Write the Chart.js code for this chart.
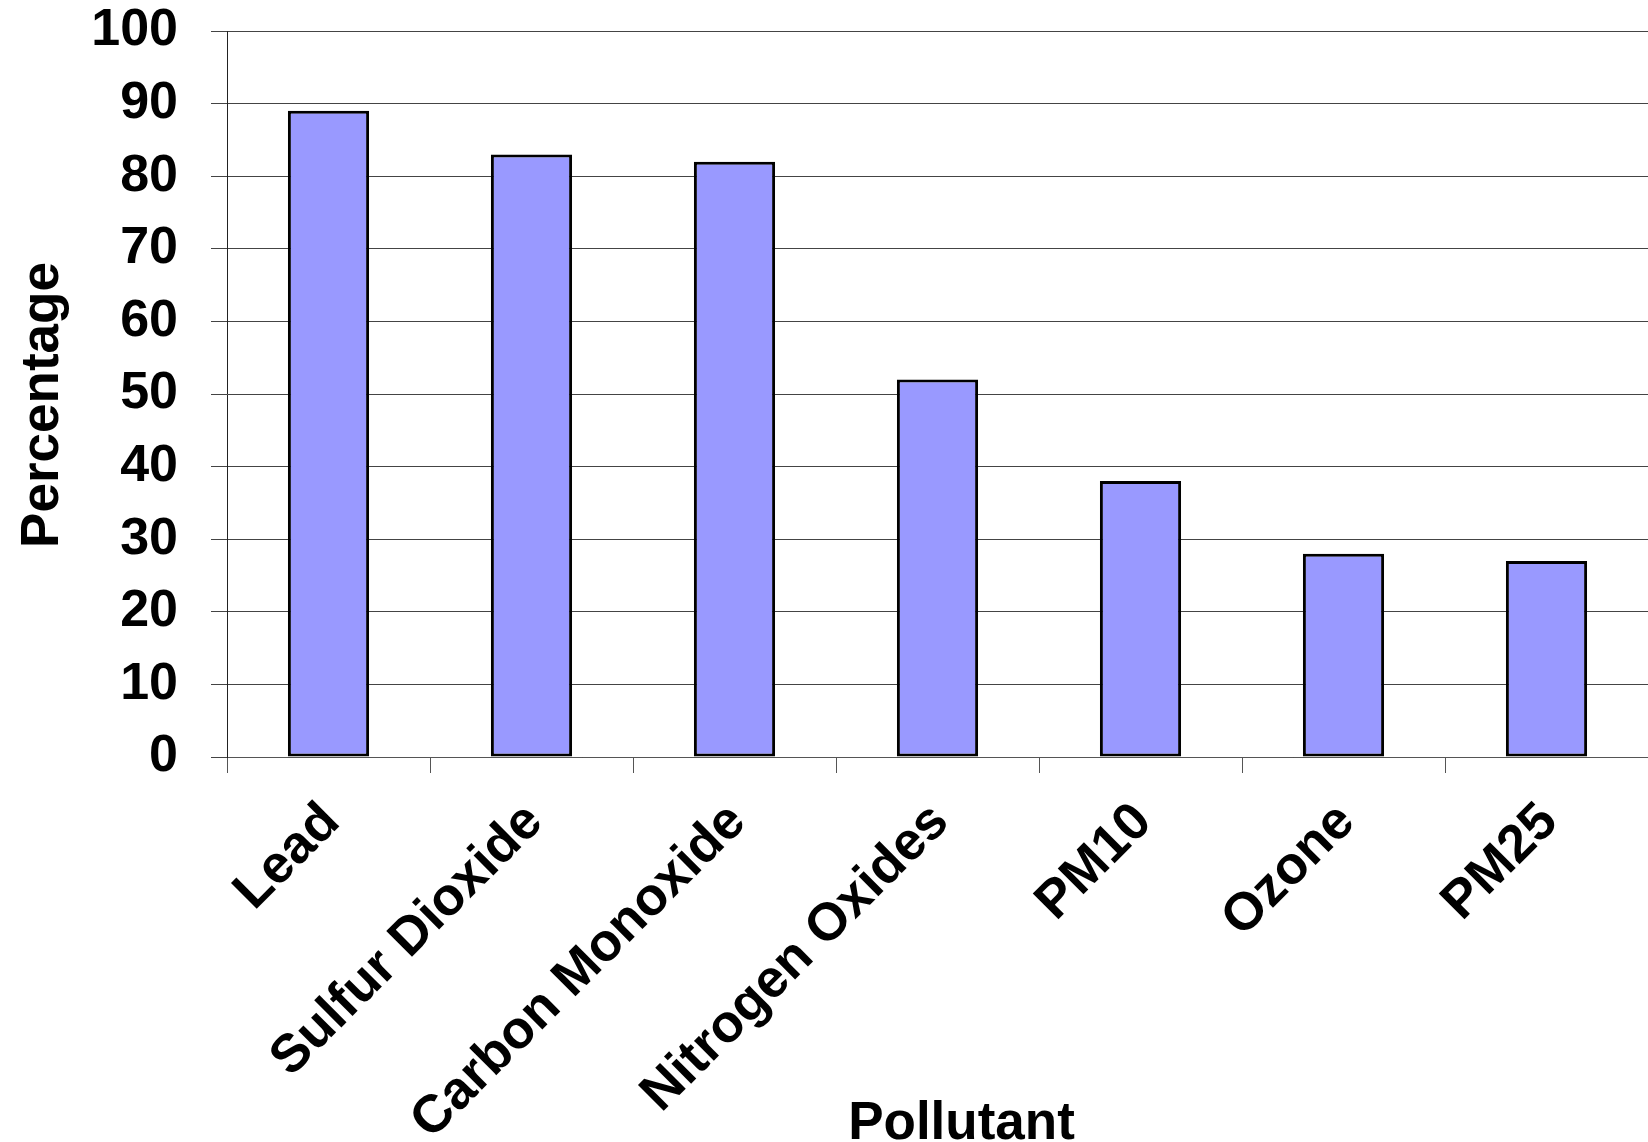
<!DOCTYPE html>
<html>
<head>
<meta charset="utf-8">
<script src="https://cdn.jsdelivr.net/npm/chart.js@4/dist/chart.umd.min.js"></script>
<style>
  html, body { margin: 0; padding: 0; background: #ffffff; }
  #wrap { width: 1648px; height: 1142px; position: relative; }
</style>
</head>
<body>
<div id="wrap"><canvas id="chart" width="1648" height="1142"></canvas></div>
<script>
// Share of monitoring sites meeting the standard, by pollutant
const pollutants = ['Lead', 'Sulfur Dioxide', 'Carbon Monoxide', 'Nitrogen Oxides', 'PM10', 'Ozone', 'PM25'];
const percentages = [89, 83, 82, 52, 38, 28, 27];
const yTicks = [0, 10, 20, 30, 40, 50, 60, 70, 80, 90, 100];
const xTitle = 'Pollutant';
const yTitle = 'Percentage';

const FONT = '"Liberation Sans", Arial, Helvetica, sans-serif';

// Axis titles, placed relative to the plot area
const axisTitles = {
  id: 'axisTitles',
  afterDraw(chart) {
    const { ctx, chartArea } = chart;
    ctx.save();
    ctx.fillStyle = '#000000';
    ctx.font = 'bold 53px ' + FONT;
    ctx.textAlign = 'center';
    ctx.textBaseline = 'alphabetic';
    // horizontal title under the rotated category labels
    ctx.fillText(xTitle, (chartArea.left + chartArea.right) / 2 + 24, chart.height - 3);
    // vertical title left of the value ticks
    ctx.translate(58, (chartArea.top + chartArea.bottom) / 2 + 11);
    ctx.rotate(-Math.PI / 2);
    ctx.fillText(yTitle, 0, 0);
    ctx.restore();
  }
};

new Chart(document.getElementById('chart'), {
  type: 'bar',
  data: {
    labels: pollutants,
    datasets: [{
      data: percentages,
      backgroundColor: '#9999ff',
      borderColor: '#000000',
      borderWidth: 3,
      borderSkipped: false,
      categoryPercentage: 1.0,
      barPercentage: 0.4
    }]
  },
  plugins: [axisTitles],
  options: {
    responsive: false,
    animation: false,
    layout: { padding: { top: 31, right: 0, bottom: 0, left: 0 } },
    plugins: {
      legend: { display: false },
      tooltip: { enabled: false }
    },
    scales: {
      x: {
        offset: true,
        border: { display: true, color: '#555555', width: 1 },
        grid: {
          offset: true,
          drawOnChartArea: false,
          drawTicks: true,
          tickLength: 16,
          color: '#555555'
        },
        ticks: {
          autoSkip: false,
          minRotation: 45,
          maxRotation: 45,
          padding: 18,
          labelOffset: 3,
          color: '#000000',
          font: { family: FONT, size: 53, weight: 'bold' }
        },
        afterFit(scale) {
          scale.height = 385;
          scale.paddingLeft = 0;
          scale.paddingRight = 0;
        }
      },
      y: {
        min: 0,
        max: 100,
        afterBuildTicks(scale) {
          scale.ticks = yTicks.map(v => ({ value: v }));
        },
        border: { display: true, color: '#222222', width: 1 },
        grid: {
          drawTicks: true,
          tickLength: 16,
          color: '#444444',
          lineWidth: 1
        },
        ticks: {
          padding: 33,
          color: '#000000',
          font: { family: FONT, size: 52, weight: 'bold' }
        },
        afterFit(scale) {
          scale.width = 227;
          scale.paddingTop = 0;
          scale.paddingBottom = 0;
        }
      }
    }
  }
});
</script>
</body>
</html>
